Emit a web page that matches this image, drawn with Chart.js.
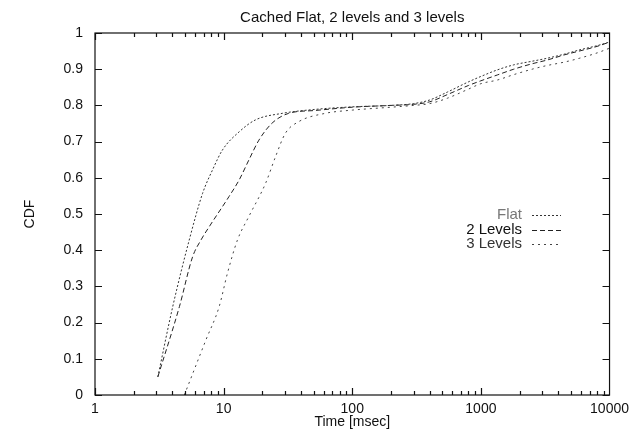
<!DOCTYPE html>
<html>
<head>
<meta charset="utf-8">
<script src="https://cdn.jsdelivr.net/npm/chart.js@4.4.1/dist/chart.umd.min.js"></script>
<style>
  html, body { margin: 0; padding: 0; background: #fff; }
  #wrap { width: 635px; height: 431px; }
</style>
</head>
<body>
<div id="wrap"><canvas id="cdf" width="635" height="431"></canvas></div>
<script>
// ---- data ----
const chartTitle = 'Cached Flat, 2 levels and 3 levels';
const seriesNames = ['Flat', '2 Levels', '3 Levels'];

const flatTime = [3.08, 4.02, 5.4, 6.86, 8.2, 9.8, 13.2, 17.7, 28.5, 51.5, 100, 200, 300, 400, 550, 800, 1000, 1340, 1800, 2500, 3250, 4500, 5800, 8000, 10000];
const flatCdf  = [0.05, 0.244, 0.428, 0.557, 0.622, 0.677, 0.727, 0.76, 0.778, 0.789, 0.796, 0.80, 0.805, 0.815, 0.837, 0.865, 0.88, 0.898, 0.912, 0.922, 0.93, 0.942, 0.953, 0.965, 0.975];

const twoTime = [3.08, 4.53, 5.74, 6.66, 7.73, 11, 13.2, 15.7, 18.8, 23.8, 32, 51.5, 100, 200, 300, 400, 550, 800, 1000, 1340, 1800, 2500, 3250, 4500, 5800, 8000, 10000];
const twoCdf  = [0.05, 0.244, 0.382, 0.428, 0.465, 0.548, 0.594, 0.649, 0.704, 0.751, 0.778, 0.786, 0.795, 0.80, 0.803, 0.81, 0.83, 0.855, 0.868, 0.884, 0.90, 0.915, 0.925, 0.94, 0.95, 0.963, 0.975];

const threeTime = [4.95, 7.28, 9.23, 10.7, 12.8, 15.7, 21.2, 25.3, 30.2, 38.3, 61.5, 100, 200, 300, 400, 550, 800, 1000, 1340, 1800, 2500, 3250, 4500, 5800, 8000, 10000];
const threeCdf  = [0, 0.152, 0.244, 0.336, 0.428, 0.493, 0.585, 0.658, 0.723, 0.755, 0.778, 0.787, 0.795, 0.80, 0.805, 0.82, 0.845, 0.86, 0.87, 0.885, 0.90, 0.91, 0.92, 0.93, 0.945, 0.958];

const xTicks = [1, 10, 100, 1000, 10000];
const yTicks = [0, 0.1, 0.2, 0.3, 0.4, 0.5, 0.6, 0.7, 0.8, 0.9, 1];

// ---- helpers ----
function pairs(xs, ys) { return xs.map((x, i) => ({ x: x, y: ys[i] })) }

const FONT = "'Liberation Sans', Arial, sans-serif";
const styles = [
  { color: '#333', dash: [2, 2] },
  { color: '#222', dash: [5, 3] },
  { color: '#444', dash: [2, 4] }
];

function makeSet(i, xs, ys) {
  return {
    label: seriesNames[i],
    data: pairs(xs, ys),
    borderColor: styles[i].color,
    borderWidth: 1,
    borderDash: styles[i].dash,
    pointRadius: 0,
    fill: false,
    cubicInterpolationMode: 'monotone'
  };
}

// frame, inward ticks, title and legend like gnuplot
const gnuplotFrame = {
  id: 'gnuplotFrame',
  afterDraw(chart) {
    const ctx = chart.ctx, a = chart.chartArea;
    const xs = chart.scales.x, ys = chart.scales.y;
    ctx.save();
    ctx.strokeStyle = '#111';
    ctx.lineWidth = 1.2;
    ctx.setLineDash([]);
    ctx.strokeRect(a.left, a.top, a.right - a.left, a.bottom - a.top);

    ctx.beginPath();
    // y ticks both sides
    yTicks.forEach(v => {
      const p = Math.round(ys.getPixelForValue(v)) + 0.5;
      ctx.moveTo(a.left, p); ctx.lineTo(a.left + 7, p);
      ctx.moveTo(a.right, p); ctx.lineTo(a.right - 7, p);
    });
    // x ticks top and bottom, with log minors
    for (let d = 1; d < 10000; d *= 10) {
      for (let m = 1; m <= 9; m++) {
        const v = d * m;
        const p = Math.round(xs.getPixelForValue(v)) + 0.5;
        const len = m === 1 ? 7 : 4;
        ctx.moveTo(p, a.bottom); ctx.lineTo(p, a.bottom - len);
        ctx.moveTo(p, a.top); ctx.lineTo(p, a.top + len);
      }
    }
    ctx.stroke();

    // title
    ctx.fillStyle = '#111';
    ctx.font = '15px ' + FONT;
    ctx.textAlign = 'center';
    ctx.textBaseline = 'middle';
    ctx.fillText(chartTitle, (a.left + a.right) / 2, 18);

    // legend
    const textRight = 522, lineL = 532, lineR = 561;
    const rowY = [215, 230, 244];
    const textColors = ['#777', '#111', '#333'];
    ctx.textAlign = 'right';
    chart.data.datasets.forEach((ds, i) => {
      ctx.fillStyle = textColors[i];
      ctx.fillText(ds.label, textRight, rowY[i]);
      ctx.beginPath();
      ctx.strokeStyle = ds.borderColor;
      ctx.lineWidth = 1;
      ctx.setLineDash(ds.borderDash);
      ctx.moveTo(lineL, rowY[i] + 0.5);
      ctx.lineTo(lineR, rowY[i] + 0.5);
      ctx.stroke();
    });
    ctx.restore();
  }
};

new Chart(document.getElementById('cdf').getContext('2d'), {
  type: 'line',
  data: {
    datasets: [
      makeSet(0, flatTime, flatCdf),
      makeSet(1, twoTime, twoCdf),
      makeSet(2, threeTime, threeCdf)
    ]
  },
  options: {
    responsive: false,
    animation: false,
    layout: { padding: { top: 33, right: 22, left: 0, bottom: 0 } },
    plugins: {
      legend: { display: false },
      title: { display: false },
      tooltip: { enabled: false }
    },
    scales: {
      x: {
        type: 'logarithmic',
        min: 1,
        max: 10000,
        grid: { display: false, drawTicks: false },
        border: { display: false },
        afterBuildTicks: s => { s.ticks = xTicks.map(v => ({ value: v })) },
        afterFit: s => { s.height = 36 },
        ticks: {
          autoSkip: false,
          maxRotation: 0,
          padding: 6,
          color: '#111',
          font: { family: FONT, size: 14 },
          callback: v => String(v)
        },
        title: {
          display: true,
          text: 'Time [msec]',
          color: '#111',
          padding: { top: 0, bottom: 0 },
          font: { family: FONT, size: 14 }
        }
      },
      y: {
        min: 0,
        max: 1,
        grid: { display: false, drawTicks: false },
        border: { display: false },
        afterBuildTicks: s => { s.ticks = yTicks.map(v => ({ value: v })) },
        afterFit: s => { s.width = 95 },
        ticks: {
          padding: 12,
          color: '#111',
          font: { family: FONT, size: 14 },
          callback: v => String(Math.round(v * 10) / 10)
        },
        title: {
          display: true,
          text: 'CDF',
          color: '#111',
          padding: { top: 22, bottom: 0 },
          font: { family: FONT, size: 14 }
        }
      }
    }
  },
  plugins: [gnuplotFrame]
});
</script>
</body>
</html>
